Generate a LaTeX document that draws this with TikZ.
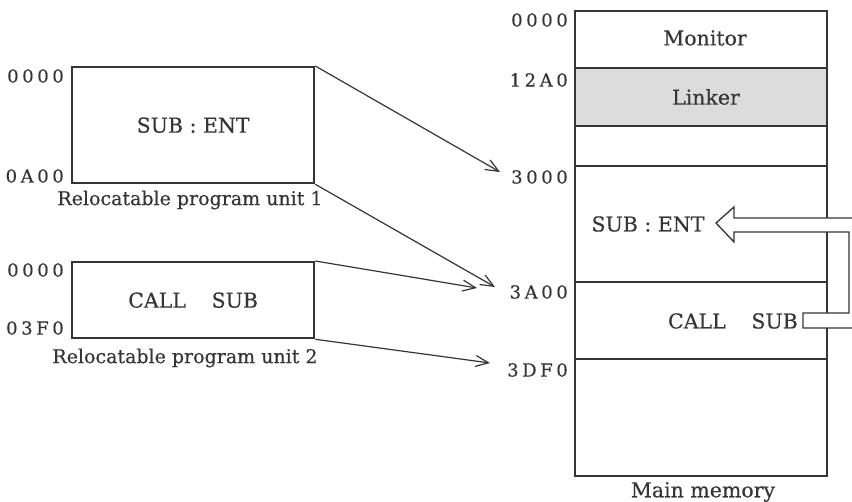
\documentclass[tikz,border=0pt]{standalone}
\usepackage{fontspec}
\setmainfont{DejaVu Serif}[FakeBold=0.4]
\newfontfamily\addrfont{DejaVu Serif}[LetterSpace=20,FakeBold=0.4]
\usetikzlibrary{arrows.meta}
\definecolor{ink}{HTML}{353535}
\definecolor{linkerfill}{HTML}{DCDCDC}
\begin{document}
\begin{tikzpicture}[x=1pt,y=-1pt,
  txt/.style={font=\fontsize{20.5}{24}\selectfont, text=ink, inner sep=0pt},
  captxt/.style={font=\fontsize{19}{22}\selectfont, text=ink, inner sep=0pt},
  addr/.style={font=\addrfont\fontsize{18}{21}\selectfont,
               text=ink, inner sep=0pt, anchor=east},
  unitbox/.style={draw=ink, line width=2.3pt, anchor=north west, inner sep=0pt,
                  font=\fontsize{20.5}{24}\selectfont, text=ink},
  membox/.style={draw=ink, line width=2.1pt, anchor=north west, inner sep=0pt},
  divider/.style={draw=ink, line width=1.2pt},
  link/.style={draw=ink, line width=1.2pt,
               -{Straight Barb[length=13pt,width=11pt,line width=1.2pt]}},
  callarrow/.style={draw=ink, fill=white, line width=1.3pt, line join=miter}
]
\useasboundingbox (0,0) rectangle (852,502);
\clip (0,0) rectangle (852,502);

% relocatable program units
\node[unitbox, minimum width=242pt, minimum height=116pt] (u1) at (71,66) {SUB : ENT};
\node[unitbox, minimum width=242pt, minimum height=76pt] (u2) at (71,261) {CALL\hspace{1.25em}SUB};

\node[addr] (u1top) at (64,76) {0000};
\node[addr] (u1bot) at (64,176) {0A00};
\node[addr] (u2top) at (64,270) {0000};
\node[addr] (u2bot) at (64,328) {03F0};
\node[captxt] (cap1) at (190,200) {Relocatable program unit 1};
\node[captxt] (cap2) at (185,358) {Relocatable program unit 2};

% main memory map
\coordinate (mtl) at (574,10);
\fill[linkerfill] (574,68) rectangle (826,126);
\node[membox, minimum width=252pt, minimum height=465pt] (mem) at (mtl) {};
\foreach \yy in {68,126,166,282,359}
  \draw[divider] (mem.west |- 0,\yy) -- (mem.east |- 0,\yy);

\node[txt] (monitor) at (705,38) {Monitor};
\node[txt] (linker) at (706,97) {Linker};
\node[txt] (entry) at (648,224) {SUB : ENT};
\node[txt, anchor=east] (call) at (798,321) {CALL\hspace{1.25em}SUB};
\node[txt] (memcap) at (703,492) {Main memory};

\node[addr] (m0000) at (568,20) {0000};
\node[addr] (m12A0) at (568,80) {12A0};
\node[addr] (m3000) at (568,177) {3000};
\node[addr] (m3A00) at (568,292) {3A00};
\node[addr] (m3DF0) at (568,370) {3DF0};

% relocation connectors
\coordinate (t3000) at (500,172);
\coordinate (t3A00a) at (495,287);
\coordinate (t3A00b) at (477,288);
\coordinate (t3DF0) at (490,363);
\draw[link] (u1.north east) -- (t3000);
\draw[link] (u1.south east) -- (t3A00a);
\draw[link] (u2.north east) -- (t3A00b);
\draw[link] (u2.south east) -- (t3DF0);

% hollow arrow from the call to the entry point
\draw[callarrow] (716,223) -- (734,207) -- (734,218) -- (870,218) -- (870,328)
  -- (803,328) -- (803,313) -- (849,313) -- (849,232) -- (734,232) -- (734,242) -- cycle;
\end{tikzpicture}
\end{document}
